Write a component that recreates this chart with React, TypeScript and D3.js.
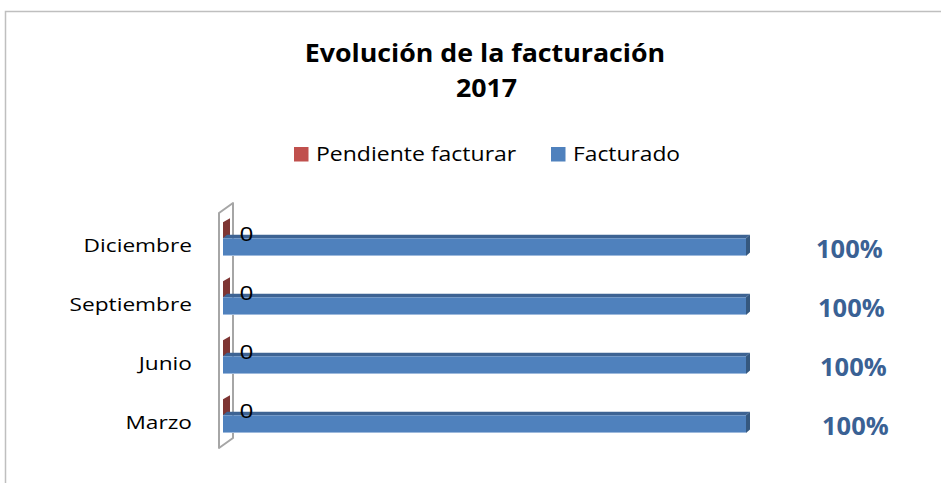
import React from 'react';
import * as d3 from 'd3';

const categories = ['Marzo', 'Junio', 'Septiembre', 'Diciembre'];
const facturado = [1, 1, 1, 1];
const pendiente = [0, 0, 0, 0];
const seriesNames = ['Pendiente facturar', 'Facturado'];
const titleLines = ['Evolución de la facturación', '2017'];

const FONT = '"Open Sans", Lato, sans-serif';

type TProps = { x: number; y: number; sx: number; children: React.ReactNode; [k: string]: any };
function SText({ x, y, sx, children, ...rest }: TProps) {
  return (
    <text transform={`translate(${x},${y}) scale(${sx},1)`} {...rest}>
      {children}
    </text>
  );
}

export default function App() {
  const W = 941, H = 483;
  const x = d3.scaleLinear().domain([0, 1]).range([223, 746]);
  const y = d3.scaleBand<string>().domain([...categories].reverse()).range([218, 454]);
  const barH = 17.7;
  const dx = 4, dy = -3.5;
  const pctFmt = d3.format('.0%');

  const rows = categories.map((c, i) => ({ c, i, f: facturado[i], p: pendiente[i] }));

  return (
    <svg width={W} height={H} style={{ position: 'absolute', left: 0, top: 0, background: '#fff' }} fontFamily={FONT}>
      <rect x={5.5} y={11.5} width={W} height={H} fill="#fff" stroke="#BFBFBF" strokeWidth={1.5} />
      <g textAnchor="middle" fontWeight="bold" fontSize={25.5} fill="#000">
        <SText x={485} y={62} sx={1.05}>{titleLines[0]}</SText>
        <SText x={486.5} y={97} sx={1.05}>{titleLines[1]}</SText>
      </g>
      <g fontSize={20}>
        <rect x={294} y={147} width={14.5} height={14.5} fill="#C0504D" />
        <SText x={316} y={161} sx={1.15}>{seriesNames[0]}</SText>
        <rect x={551} y={147} width={14.5} height={14.5} fill="#4F81BD" />
        <SText x={573} y={161} sx={1.14}>{seriesNames[1]}</SText>
      </g>
      {/* wall */}
      <path d="M219,213 L233,203 L233,438 L219,448 Z" fill="#fff" stroke="#A6A6A6" strokeWidth={2} strokeLinejoin="round" />
      {rows.map((r) => {
        const top = (y(r.c) as number) + 20.3;
        const x0 = x(0);
        const x1 = x(r.f);
        const xp = x(r.p);
        return (
          <g key={r.c}>
            <path d={`M${xp},${top - 16} L${xp + 7},${top - 20} L${xp + 7},${top - 3} L${xp},${top} Z`} fill="#7E3533" />
            <path d={`M${x0},${top} L${x0 + dx},${top + dy} L${x1 + dx},${top + dy} L${x1},${top} Z`} fill="#3D6393" />
            <path d={`M${x1},${top} L${x1 + dx},${top + dy} L${x1 + dx},${top + dy + barH} L${x1},${top + barH} Z`} fill="#35587F" />
            <rect x={x0} y={top} width={x1 - x0} height={barH} fill="#4F81BD" />
            <line x1={x0} x2={x1} y1={top + barH - 0.5} y2={top + barH - 0.5} stroke="#9DB9DC" strokeWidth={1} />
            <SText x={192} y={top + 13.7} sx={1.22} textAnchor="end" fontSize={18.6} fill="#000">{r.c}</SText>
            <SText x={x0 + 16.5} y={top + 2.4} sx={1.25} fontSize={19.5} fill="#000">{r.p}</SText>
            <text x={x1 + 70 + (categories.length - 1 - r.i) * 2} y={top + 20} fontSize={25.5} fontWeight="bold" fill="#3A6194">{pctFmt(r.f)}</text>
          </g>
        );
      })}
    </svg>
  );
}
